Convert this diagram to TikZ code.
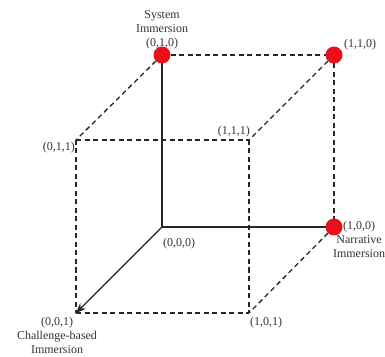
\documentclass[tikz,border=0pt]{standalone}
\usepackage{fontspec}
\setmainfont{Liberation Serif}
\usepackage{tikz}
\usetikzlibrary{positioning,arrows.meta}
\usepackage[dvipsnames]{xcolor}
\definecolor{dotred}{RGB}{232,16,26}

\tikzset{
    edge/.style={line width=1.3pt,black!85},
    hidden/.style={edge,dashed,dash pattern=on 5pt off 3.5pt},
    vertex/.style={circle,fill=dotred,inner sep=0pt,minimum size=17pt},
    lbl/.style={font=\fontsize{12}{14}\selectfont,text=black!80,inner sep=1pt,align=center}
}

\begin{document}
\begin{tikzpicture}[x=1pt,y=1pt]
            \useasboundingbox (0,0) rectangle (385,356);
            % corners of the cube
            \coordinate (v000) at (162,129);
            \coordinate (v100) at (334,129);
            \coordinate (v010) at (162,301);
            \coordinate (v110) at (334,301);
            \coordinate (v001) at (76,43);
            \coordinate (v101) at (249,43);
            \coordinate (v011) at (76,216);
            \coordinate (v111) at (249,216);
            % dashed edges
            \foreach \a/\b in {v010/v110, v110/v100, v010/v011, v110/v111,
                               v100/v101, v011/v111, v011/v001, v111/v101, v001/v101} {
                \draw[hidden] (\a) -- (\b);
            }
            % axes
            \draw[edge] (v000) -- (v010);
            \draw[edge] (v000) -- (v100);
            \draw[edge,-{Stealth[length=10pt,width=8pt]}] (v000) -- (v001);
            % red corners
            \foreach \v in {v010,v110,v100} {
                \node[vertex] (dot\v) at (\v) {};
            }
            % labels
            \node[lbl,anchor=south] (system) at ([yshift=5pt]v010) {System\\Immersion\\(0,1,0)};
            \node[lbl,anchor=west] (l110) at ([xshift=9pt,yshift=10pt]v110) {(1,1,0)};
            \node[lbl,anchor=north east] (l011) at ([yshift=-1pt]v011) {(0,1,1)};
            \node[lbl,anchor=south east] (l111) at ([xshift=2pt,yshift=2pt]v111) {(1,1,1)};
            \node[lbl,anchor=north west] (l000) at ([yshift=-10pt]v000) {(0,0,0)};
            \node[lbl,anchor=north] (narrative) at (359,136) {(1,0,0)\\Narrative\\Immersion};
            \node[lbl,anchor=north west] (l101) at ([yshift=-3pt]v101) {(1,0,1)};
            \node[lbl,anchor=north] (challenge) at (57,40) {(0,0,1)\\Challenge-based\\Immersion};
        \end{tikzpicture}
\end{document}
